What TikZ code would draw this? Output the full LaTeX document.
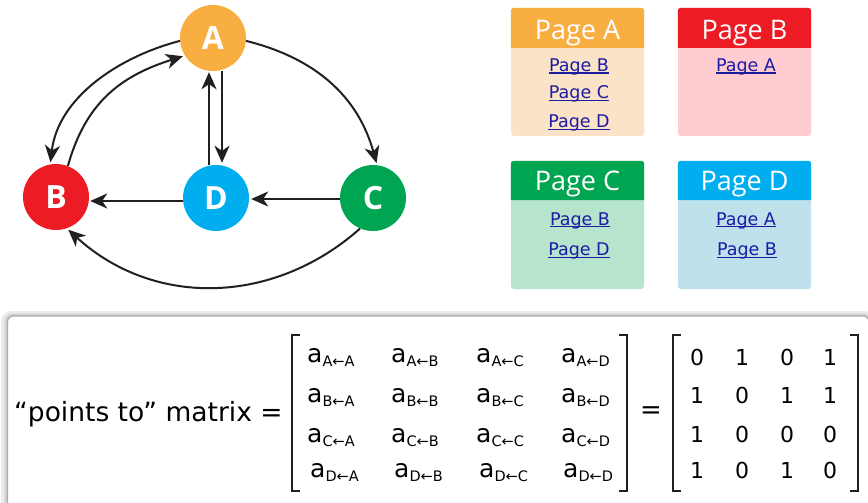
\documentclass[tikz,border=0pt]{standalone}
\usepackage{fontspec}
\setmainfont{DejaVu Sans}
\newfontfamily\hdrfont{Open Sans}
\usetikzlibrary{arrows.meta,calc}
\definecolor{cA}{HTML}{F9AE42}
\definecolor{cB}{HTML}{ED1C24}
\definecolor{cC}{HTML}{00A551}
\definecolor{cD}{HTML}{00AEEF}
\definecolor{bA}{HTML}{FAE3C6}
\definecolor{bB}{HTML}{FFCCD2}
\definecolor{bC}{HTML}{B7E4CC}
\definecolor{bD}{HTML}{BEE1EC}
\definecolor{lnkc}{HTML}{1C1CA3}
\definecolor{ink}{HTML}{231F20}
\newcommand\lnk[1]{\setbox0\hbox{#1}\rlap{\rule[-2pt]{\wd0}{1.2pt}}\box0}
\newcommand\ent[2]{{\fontsize{25}{25}\selectfont #1}\raisebox{-4pt}{\fontsize{14.5}{14.5}\selectfont #2}}
\begin{document}
\begin{tikzpicture}[x=1pt,y=-1pt,
  vert/.style={circle,minimum size=66pt,inner sep=0pt,text=white,font=\hdrfont\bfseries\fontsize{32}{32}\selectfont},
  arr/.style={draw=ink,line width=2pt,-{Stealth[length=17pt,width=15pt,inset=5pt]}},
  pagebody/.style={rectangle,rounded corners=3pt,minimum width=133pt,inner sep=0pt,minimum height=128pt},
  hdr/.style={text=white,font=\hdrfont\fontsize{27}{27}\selectfont,anchor=base,inner sep=0pt},
  link/.style={text=lnkc,font=\fontsize{17.5}{17.5}\selectfont,anchor=base,inner sep=0pt},
  brk/.style={draw=ink,line width=1.6pt},
  entry/.style={anchor=base west,inner sep=0pt},
  num/.style={anchor=base,inner sep=0pt,font=\fontsize{22}{22}\selectfont}]
\useasboundingbox (0,0) rectangle (868,503);
% graph
\node[vert,fill=cA] (A) at (213,38) {A};
\node[vert,fill=cB] (B) at (56,197) {B};
\node[vert,fill=cD] (D) at (216,198) {D};
\node[vert,fill=cC] (C) at (373,198) {C};
\draw[arr,shorten >=2pt] (A.185) .. controls (118,57) and (58,98) .. (B.100);
\draw[arr,shorten >=2pt] (B.69) .. controls (85.5,102.6) and (120.6,75.9) .. (A.212);
\draw[arr,shorten >=2pt] (A.355) .. controls (315,58) and (358,96) .. (C.83);
\draw[arr,shorten >=2pt] (C.247) .. controls (274,305) and (154,308) .. (B.289);
\draw[arr,shorten >=2pt] ([xshift=9pt]A.south) -- ([xshift=9pt]A.south |- D.north);
\draw[arr,shorten >=1pt] ([xshift=-7pt]D.north) -- ([xshift=-7pt]D.north |- A.south);
\draw[arr,shorten >=1pt] ([yshift=-3pt]D.west) -- ([yshift=-3pt]D.west -| B.east);
\draw[arr,shorten >=2pt] ([yshift=-1pt]C.west) -- ([yshift=-1pt]C.west -| D.east);
% pages
\node[pagebody,fill=bA] (pA) at (577.5,72) {};
\node[pagebody,fill=bB] (pB) at (744.5,72) {};
\node[pagebody,fill=bC] (pC) at (577.5,225) {};
\node[pagebody,fill=bD] (pD) at (744.5,225) {};
\fill[cA] (pA.west |- 0,48) {[rounded corners=3pt] -- (pA.north west) -- (pA.north east)} -- (pA.east |- 0,48) -- cycle;
\fill[cB] (pB.west |- 0,48) {[rounded corners=3pt] -- (pB.north west) -- (pB.north east)} -- (pB.east |- 0,48) -- cycle;
\fill[cC] (pC.west |- 0,200) {[rounded corners=3pt] -- (pC.north west) -- (pC.north east)} -- (pC.east |- 0,200) -- cycle;
\fill[cD] (pD.west |- 0,200) {[rounded corners=3pt] -- (pD.north west) -- (pD.north east)} -- (pD.east |- 0,200) -- cycle;
\node[hdr] (hA) at (577.5,39.5) {Page A};
\node[hdr] (hB) at (744.5,39.5) {Page B};
\node[hdr] (hC) at (577.5,190.5) {Page C};
\node[hdr] (hD) at (744.5,190.5) {Page D};
\node[link] (lAB) at (579,71.7) {\lnk{Page B}};
\node[link] (lAC) at (579,99) {\lnk{Page C}};
\node[link] (lAD) at (579,127.7) {\lnk{Page D}};
\node[link] (lBA) at (746,71.7) {\lnk{Page A}};
\node[link] (lCB) at (580,225) {\lnk{Page B}};
\node[link] (lCD) at (579,255.7) {\lnk{Page D}};
\node[link] (lDA) at (746,225) {\lnk{Page A}};
\node[link] (lDB) at (747,255.7) {\lnk{Page B}};
% bottom panel
\draw[black!8,line width=6pt,rounded corners=8pt] (4,314) rectangle (872,512);
\draw[black!18,line width=3pt,rounded corners=7pt] (6,315) rectangle (870,510);
\draw[black!32,line width=1.2pt,fill=white,rounded corners=6pt] (7.5,316) rectangle (869,508);
\node[anchor=base west,inner sep=0pt,font=\fontsize{26.5}{26.5}\selectfont] (lbl) at (14,421) {“points to” matrix =};
% matrix 1 brackets
\draw[brk] (300,335) -- (292,335) -- (292,491) -- (300,491);
\draw[brk] (619,335) -- (627,335) -- (627,491) -- (619,491);
\node[entry] (aAA) at (307,362) {\ent{a}{A←A}};
\node[entry] (aAB) at (391,362) {\ent{a}{A←B}};
\node[entry] (aAC) at (476,362) {\ent{a}{A←C}};
\node[entry] (aAD) at (561,362) {\ent{a}{A←D}};
\node[entry] (aBA) at (307,402) {\ent{a}{B←A}};
\node[entry] (aBB) at (391,402) {\ent{a}{B←B}};
\node[entry] (aBC) at (476,402) {\ent{a}{B←C}};
\node[entry] (aBD) at (561,402) {\ent{a}{B←D}};
\node[entry] (aCA) at (307,442) {\ent{a}{C←A}};
\node[entry] (aCB) at (391,442) {\ent{a}{C←B}};
\node[entry] (aCC) at (476,442) {\ent{a}{C←C}};
\node[entry] (aCD) at (561,442) {\ent{a}{C←D}};
\node[entry] (aDA) at (310,477) {\ent{a}{D←A}};
\node[entry] (aDB) at (394,477) {\ent{a}{D←B}};
\node[entry] (aDC) at (479,477) {\ent{a}{D←C}};
\node[entry] (aDD) at (563,477) {\ent{a}{D←D}};
\node[anchor=base,inner sep=0pt,font=\fontsize{26}{26}\selectfont] (eq) at (651,418.5) {=};
% matrix 2
\draw[brk] (681,335) -- (673,335) -- (673,491) -- (681,491);
\draw[brk] (850,335) -- (858,335) -- (858,491) -- (850,491);
\node[num] (m11) at (697,365) {0};
\node[num] (m12) at (742,365) {1};
\node[num] (m13) at (787,365) {0};
\node[num] (m14) at (830,365) {1};
\node[num] (m21) at (697,403) {1};
\node[num] (m22) at (742,403) {0};
\node[num] (m23) at (787,403) {1};
\node[num] (m24) at (830,403) {1};
\node[num] (m31) at (697,442) {1};
\node[num] (m32) at (742,442) {0};
\node[num] (m33) at (787,442) {0};
\node[num] (m34) at (830,442) {0};
\node[num] (m41) at (697,478) {1};
\node[num] (m42) at (742,478) {0};
\node[num] (m43) at (787,478) {1};
\node[num] (m44) at (830,478) {0};
\end{tikzpicture}
\end{document}
